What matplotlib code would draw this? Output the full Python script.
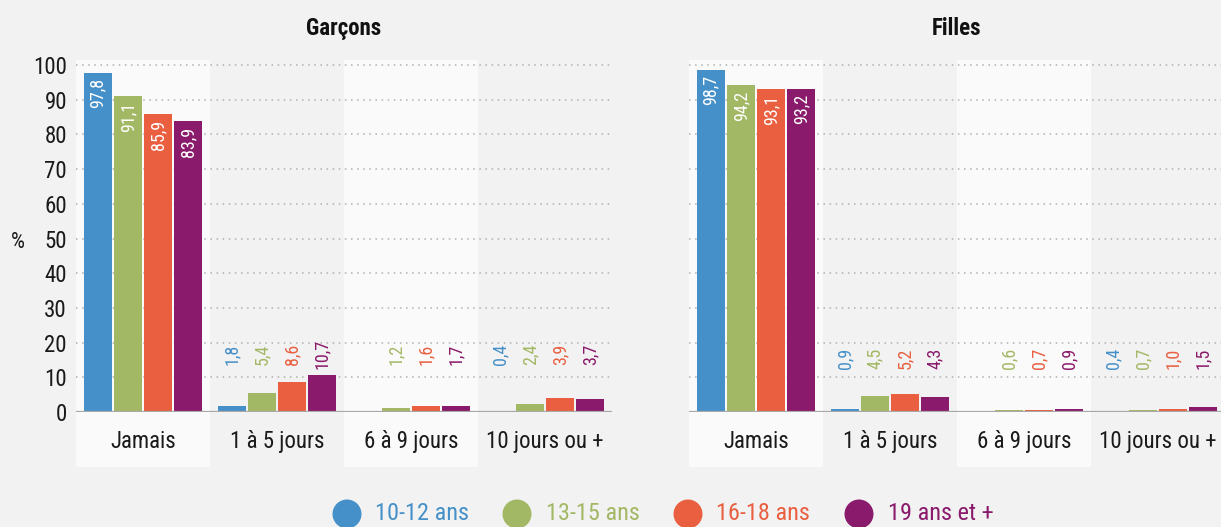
import numpy as np
import matplotlib
matplotlib.use("Agg")
import matplotlib.pyplot as plt
from matplotlib import font_manager as fm
from matplotlib.patches import Ellipse

# ---------------- data ----------------
categories = ["Jamais", "1 à 5 jours", "6 à 9 jours", "10 jours ou +"]
series_names = ["10-12 ans", "13-15 ans", "16-18 ans", "19 ans et +"]
panel_titles = ["Garçons", "Filles"]

garcons_10_12 = [97.8, 1.8, np.nan, 0.4]
garcons_13_15 = [91.1, 5.4, 1.2, 2.4]
garcons_16_18 = [85.9, 8.6, 1.6, 3.9]
garcons_19_plus = [83.9, 10.7, 1.7, 3.7]

filles_10_12 = [98.7, 0.9, np.nan, 0.4]
filles_13_15 = [94.2, 4.5, 0.6, 0.7]
filles_16_18 = [93.1, 5.2, 0.7, 1.0]
filles_19_plus = [93.2, 4.3, 0.9, 1.5]

y_ticks = list(range(0, 101, 10))

colors = ["#4590C8", "#A3B864", "#E95F40", "#8A1A6B"]

# ---------------- fonts ----------------
available = {f.name for f in fm.fontManager.ttflist}
font = "DejaVu Sans"
for cand in ["Liberation Sans Narrow", "Roboto Condensed", "Open Sans Condensed", "Noto Sans Condensed"]:
    if cand in available:
        font = cand
        break
plt.rcParams["font.family"] = [font, "DejaVu Sans"]

BG = "#f2f2f2"
BAND = "#fafafa"
W, H = 1221, 527
fig = plt.figure(figsize=(W / 100, H / 100), dpi=100, facecolor=BG)

def px_axes(x0, x1, ytop, ybot):
    return fig.add_axes([x0 / W, 1 - ybot / H, (x1 - x0) / W, (ybot - ytop) / H])

ax_top_px, ax_bot_px = 60, 412
units_per_px = 100 / (412 - 65)
ymax = (ax_bot_px - ax_top_px) * units_per_px
band_bottom = -(467 - ax_bot_px) / (ax_bot_px - ax_top_px)

panels = [
    (px_axes(76, 612, ax_top_px, ax_bot_px),
     [garcons_10_12, garcons_13_15, garcons_16_18, garcons_19_plus], 16.6),
    (px_axes(689, 1225, ax_top_px, ax_bot_px),
     [filles_10_12, filles_13_15, filles_16_18, filles_19_plus], 15.4),
]

x = np.arange(len(categories))
offsets = [-0.336, -0.112, 0.112, 0.336]
bar_w = 0.209

for i, (ax, data, small_y) in enumerate(panels):
    ax.set_facecolor(BG)
    ax.set_xlim(-0.5, len(categories) - 0.5)
    ax.set_ylim(0, ymax)
    for k in range(0, len(categories), 2):
        ax.axvspan(k - 0.5, k + 0.5, ymin=band_bottom, ymax=1, color=BAND,
                   zorder=0, clip_on=False, lw=0)
    for t in y_ticks[1:]:
        ax.axhline(t, color="#b0b0b0", lw=1.1, ls=(0, (1, 3)), zorder=1)
    for s, vals in enumerate(data):
        vals = np.array(vals, dtype=float)
        ax.bar(x + offsets[s], vals, width=bar_w, color=colors[s], zorder=2, lw=0)
        for xi, v in zip(x + offsets[s], vals):
            if np.isnan(v):
                continue
            lab = f"{v:.1f}".replace(".", ",")
            if v > 50:
                ax.annotate(lab, (xi, v), xytext=(0, -4), textcoords="offset points",
                            rotation=90, ha="center", va="top", color="white",
                            fontsize=13, zorder=4)
            else:
                ax.text(xi, small_y, lab, rotation=90, ha="center", va="center",
                        color=colors[s], fontsize=13, zorder=4)
    ax.axhline(0, color="#a8a8a8", lw=1.6, zorder=3)
    for sp in ax.spines.values():
        sp.set_visible(False)
    ax.set_xticks(x)
    ax.set_xticklabels(categories, fontsize=16.5, color="#1a1a1a")
    ax.tick_params(axis="x", length=0, pad=13)
    ax.set_yticks(y_ticks)
    if i == 0:
        ax.set_yticklabels([str(t) for t in y_ticks], fontsize=16.5, color="#1a1a1a")
    else:
        ax.set_yticklabels([])
    ax.tick_params(axis="y", length=0, pad=6.5)
    ax.set_title(panel_titles[i], fontsize=16.5, fontweight="bold", color="#111111",
                 pad=18)

fig.text(18 / W, 1 - 242 / H, "%", fontsize=16, ha="center", va="center", color="#1a1a1a")

# legend
leg_circle_x = [347, 517, 688, 859]
leg_text_x = [375, 546, 716, 888]
leg_y = 514
for s in range(len(series_names)):
    fig.add_artist(Ellipse((leg_circle_x[s] / W, 1 - leg_y / H), 29 / W, 29 / H,
                           transform=fig.transFigure, color=colors[s], lw=0))
    fig.text(leg_text_x[s] / W, 1 - leg_y / H, series_names[s], fontsize=17.5,
             color=colors[s], ha="left", va="center")

fig.savefig("out.png", dpi=100, facecolor=BG)
